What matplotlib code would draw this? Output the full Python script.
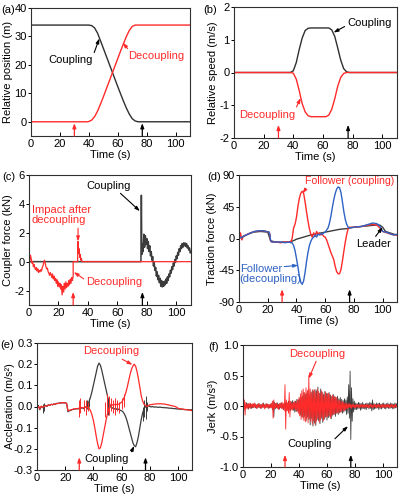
import matplotlib
matplotlib.use("Agg")
import matplotlib.pyplot as plt
import numpy as np

plt.rcParams['font.family'] = ['Liberation Sans', 'DejaVu Sans']
plt.rcParams['font.size'] = 8
plt.rcParams['axes.unicode_minus'] = False

RED = '#ff2a2a'
DARK = '#303030'
GRAY = '#3c3c3c'
BLUE = '#2f63c4'

# ---------------- data ----------------
event_t = [30, 77]  # decoupling / coupling instants (arrows on time axis)

# (a) relative position
pos_coup_t = [0, 40, 42, 44, 46, 48, 50, 52, 54, 56, 58, 60, 62, 64, 66, 68, 70, 72, 74, 110]
pos_coup = [34, 34, 33.8, 33.0, 31.2, 28.6, 25.9, 23.2, 20.5, 17.8, 15.1, 12.4, 9.8, 7.2,
            4.8, 2.7, 1.1, 0.3, 0, 0]
pos_dec_t = [0, 39, 40, 42, 44, 46, 48, 50, 52, 54, 56, 58, 60, 62, 64, 66, 68, 70, 72, 110]
pos_dec = [0, 0, 0.1, 0.6, 1.8, 3.7, 6.1, 8.7, 11.4, 14.1, 16.8, 19.5, 22.2, 24.9, 27.5,
           30.0, 32.1, 33.5, 34, 34]

# (b) relative speed
spd_coup_t = [0, 38, 40, 42, 44, 46, 48, 50, 52, 64, 66, 68, 70, 72, 74, 76, 78, 110]
spd_coup = [0, 0, 0.05, 0.3, 0.7, 1.05, 1.28, 1.35, 1.36, 1.36, 1.3, 1.1, 0.75, 0.38,
            0.12, 0.02, 0, 0]
spd_dec_t = [0, 38, 40, 42, 44, 46, 48, 50, 52, 62, 64, 66, 68, 70, 72, 74, 76, 110]
spd_dec = [0, 0, -0.02, -0.2, -0.55, -0.95, -1.2, -1.32, -1.35, -1.35, -1.3, -1.12, -0.8,
           -0.42, -0.15, -0.03, 0, 0]

# (c) coupler force
cf_dec_t = [0, 0.5, 1, 1.5, 2, 2.5, 3, 3.5, 4, 4.5, 5, 5.5, 6, 6.5, 7, 7.5, 8, 8.5, 9, 9.5,
            10, 10.5, 11, 11.5, 12, 12.5, 13, 13.5, 14, 14.5, 15, 15.5, 16, 16.5, 17, 17.5,
            18, 18.5, 19, 19.5, 20, 20.5, 21, 21.5, 22, 22.5, 23, 23.5, 24, 24.5, 25, 25.5,
            26, 26.5, 27, 27.5, 28, 28.5, 29, 29.5, 30,
            30, 33, 33.2, 33.6, 34, 34.4, 34.8, 35.2, 35.6, 36, 110]
cf_dec = [-0.3, 0.1, 0.45, 0.2, -0.1, 0.0, -0.35, -0.2, -0.45, -0.55, -0.4, -0.65, -0.5,
          -0.75, -0.6, -0.7, -0.55, -0.65, -0.4, -0.3, -0.05, 0.1, -0.1, -0.35, -0.5, -0.45,
          -0.7, -0.8, -0.95, -0.75, -0.9, -1.1, -0.85, -1.2, -1.0, -1.3, -1.15, -1.5, -1.25,
          -1.7, -1.4, -1.75, -1.5, -1.9, -1.6, -2.3, -1.7, -2.1, -1.5, -1.9, -1.4, -1.8, -1.5,
          -1.7, -1.3, -1.6, -1.2, -1.5, -1.1, -1.3, -1.0,
          0, 0, 1.4, 0.6, 0.9, 0.3, 0.5, 0.1, 0.2, 0, 0]
cf_coup_t = [0, 76, 76.3, 76.6, 77, 77.5, 78, 78.5, 79, 79.5, 80, 80.5, 81, 81.5, 82, 82.5,
             83, 83.5, 84, 84.5, 85, 85.5, 86, 86.5, 87, 87.5, 88, 88.5, 89, 89.5, 90, 90.5,
             91, 91.5, 92, 92.5, 93, 93.5, 94, 94.5, 95, 95.5, 96, 96.5, 97, 97.5, 98, 98.5,
             99, 99.5, 100, 100.5, 101, 101.5, 102, 102.5, 103, 103.5, 104, 104.5, 105, 105.5,
             106, 106.5, 107, 107.5, 108, 108.5, 109, 109.5, 110]
cf_coup = [0, 0, 4.6, 0.5, 1.2, 0.7, 1.9, 1.0, 1.8, 1.2, 1.6, 0.9, 1.4, 0.7, 1.1, 0.4, 0.7,
           0.1, 0.35, -0.3, -0.05, -0.6, -0.4, -1.0, -0.7, -1.25, -0.95, -1.45, -1.15, -1.7,
           -1.3, -1.75, -1.4, -1.7, -1.35, -1.6, -1.2, -1.5, -1.05, -1.3, -0.85, -1.05, -0.6,
           -0.8, -0.35, -0.55, -0.1, -0.3, 0.15, -0.05, 0.4, 0.2, 0.65, 0.45, 0.9, 0.7, 1.1,
           0.9, 1.25, 1.0, 1.3, 1.1, 1.3, 1.05, 1.25, 0.95, 1.1, 0.8, 0.95, 0.6, 0.7]

# (d) traction force
tf_fc_t = [0, 1, 2, 3, 5, 8, 11, 14, 17, 19, 21, 21.5, 22, 23, 26, 29, 32, 35, 36, 37, 38,
           39, 40, 41, 42, 43, 44, 45, 46, 47, 48, 49, 50, 51, 52, 53, 54, 55, 56, 57, 58, 59,
           60, 61, 62, 63, 64, 65, 66, 67, 68, 69, 70, 71, 72, 73, 74, 75, 76, 77, 80, 85, 90,
           93, 96, 98, 100, 103, 106, 108, 110]
tf_fc = [0, 8, -2, 3, 5, 8, 10, 11, 11, 10, 9, 5, -4, -5, -5, -6, -5, -5, -5, 0, 15, 20, 30,
         45, 57, 64, 67, 64, 52, 38, 25, 14, 6, 2, 8, 3, 10, 6, 8, 5, 6, 3, 2, -2, -8, -14,
         -20, -25, -30, -40, -47, -50, -50, -44, -32, -18, -5, 6, 14, 16, 16, 17, 19, 20, 19,
         15, 10, 8, 6, 5, 5]
tf_fd_t = [0, 1, 2, 3, 5, 8, 11, 14, 17, 19, 21, 21.5, 22, 23, 26, 29, 32, 35, 36, 37, 38,
           39, 40, 41, 42, 43, 44, 45, 46, 47, 48, 49, 50, 51, 52, 53, 54, 55, 56, 57, 58, 59,
           60, 61, 62, 63, 64, 65, 66, 67, 68, 69, 70, 71, 72, 73, 74, 75, 76, 77, 80, 85, 90,
           93, 96, 98, 100, 102, 104, 106, 108, 110]
tf_fd = [0, 2, 1, 3, 5, 8, 10, 11, 11, 10, 9, 6, -3, -5, -5, -5, -6, -5, -6, -6, -10, -17,
         -28, -40, -53, -62, -65, -60, -48, -33, -20, -10, -4, 0, 2, 5, 2, 6, 5, 7, 6, 8, 9, 12,
         15, 22, 32, 44, 55, 64, 70, 73, 72, 65, 52, 38, 27, 20, 16, 15, 16, 17, 20, 22, 21,
         18, 10, 9, 8, 6, 5, 6]
tf_lead_t = [0, 5, 10, 15, 20, 22, 25, 30, 35, 38, 40, 45, 50, 55, 60, 65, 70, 75, 80, 85,
             90, 95, 98, 100, 102, 105, 108, 110]
tf_lead = [0, 5, 9, 10, 9, -3, -5, -5, -5, -3, -1, 2, 5, 7, 9, 11, 13, 14, 16, 17, 18, 19,
           19, 16, 10, 8, 6, 5]

# (e) acceleration, 1 s step
acc_t = list(range(0, 111))
acc_coup = [-0.01, 0.005, -0.015, 0.0, -0.005, 0.0, 0.005, 0.0, 0.008, 0.005,
            0.01, 0.008, 0.012, 0.01, 0.015, 0.014, 0.017, 0.016, 0.018, 0.017,
            0.018, 0.015, -0.025, -0.02, -0.018, -0.015, -0.013, -0.012, -0.01, -0.012,
            -0.008, -0.01, -0.005, -0.01, -0.005, 0.0, 0.01, 0.025, 0.045, 0.07,
            0.1, 0.13, 0.16, 0.19, 0.205, 0.195, 0.17, 0.14, 0.11, 0.08,
            0.05, 0.02, 0.005, -0.01, -0.005, -0.012, -0.01, -0.015, -0.012, -0.018,
            -0.02, -0.025, -0.035, -0.05, -0.07, -0.095, -0.12, -0.145, -0.17, -0.185,
            -0.19, -0.17, -0.14, -0.1, -0.06, -0.03, -0.01, 0.0, -0.005, 0.005,
            0.0, -0.002, 0.0, -0.003, -0.002, -0.003, -0.004, -0.003, -0.004, -0.005,
            -0.005, -0.006, -0.006, -0.007, -0.008, -0.008, -0.009, -0.01, -0.01, -0.011,
            -0.012, -0.012, -0.013, -0.013, -0.014, -0.015, -0.015, -0.015, -0.016, -0.016,
            -0.015]
acc_dec = [-0.012, 0.0, -0.01, 0.002, -0.004, 0.0, 0.004, 0.002, 0.007, 0.006,
           0.01, 0.009, 0.012, 0.011, 0.014, 0.015, 0.016, 0.017, 0.018, 0.018,
           0.017, 0.014, -0.02, -0.018, -0.016, -0.014, -0.012, -0.011, -0.01, -0.01,
           -0.008, -0.006, -0.005, -0.006, -0.004, -0.003, -0.005, -0.01, -0.02, -0.04,
           -0.065, -0.1, -0.14, -0.175, -0.2, -0.195, -0.17, -0.135, -0.1, -0.065,
           -0.035, -0.01, 0.005, 0.01, 0.005, 0.01, 0.008, 0.012, 0.01, 0.015,
           0.02, 0.03, 0.045, 0.065, 0.09, 0.12, 0.15, 0.175, 0.19, 0.2,
           0.19, 0.165, 0.13, 0.09, 0.05, 0.025, 0.01, 0.005, 0.0, 0.004,
           0.008, 0.009, 0.01, 0.011, 0.012, 0.012, 0.013, 0.013, 0.013, 0.012,
           0.012, 0.011, 0.009, 0.008, 0.006, 0.005, 0.003, 0.002, 0.0, -0.003,
           -0.008, -0.01, -0.011, -0.012, -0.013, -0.014, -0.015, -0.016, -0.017, -0.018,
           -0.02]
# short noise bursts drawn as vertical strokes
acc_dec_spk_t = [29.5, 30.5, 33, 35, 36, 48.5, 50, 51, 52.5, 54, 55.5, 57, 58.5, 60, 62]
acc_dec_spk_lo = [-0.05, -0.03, -0.02, -0.04, -0.02, -0.05, -0.03, -0.04, -0.02, -0.03,
                  -0.04, -0.02, -0.03, -0.01, 0.0]
acc_dec_spk_hi = [0.03, 0.04, 0.03, 0.03, 0.02, 0.02, 0.06, 0.05, 0.04, 0.03, 0.04, 0.03,
                  0.02, 0.04, 0.06]
acc_coup_spk_t = [4, 5, 35.5, 37, 50.5, 75, 76, 77, 77.5, 78]
acc_coup_spk_lo = [-0.03, -0.02, -0.01, 0.0, -0.04, -0.07, -0.05, -0.06, -0.03, -0.02]
acc_coup_spk_hi = [0.01, 0.015, 0.03, 0.04, 0.04, 0.0, 0.03, 0.04, 0.05, 0.02]

# (f) jerk, 0.5 s step, values in 1/100 m/s^3
jerk_t = [i * 0.5 for i in range(221)]
jerk_coup = [0, 3, -4, 2, -3, 5, -2, 4, -5, 3, -3, 4, -4, 2, -3, 3, -2, 4, -3, 2, -4,
             3, -2, 4, -3, 2, -4, 3, -2, 5, -3, 2, -3, 4, -2, 3, -4, 2, -3, 3, -2,
             4, -6, 8, -18, 6, -5, 4, -3, 5, -4, 3, -5, 4, -3, 5, -4, 3, -6, 5, -4,
             6, -5, 4, -7, 8, -6, 5, -8, 7, -5, 9, -7, 6, -10, 8, -9, 11, -8, 10, -12,
             12, -15, 14, -18, 16, -20, 22, -17, 19, -25, 21, -18, 24, -22, 18, -31, 23, -20, 26, -33,
             24, -28, 27, -32, 25, -22, 31, -24, 21, -29, 28, -20, 23, -27, 19, -22, 24, -18, 21, -23,
             20, -19, 22, -17, 18, -21, 16, -15, 19, -14, 15, -17, 13, -12, 16, -14, 12, -11, 14, -10,
             11, -12, 9, -10, 12, -8, 10, -14, 15, -12, 35, -20, 57, -55, 30, -25, 12, -10, 8, -6,
             5, -6, 4, -5, 6, -4, 5, -7, 4, -5, 6, -4, 3, -5, 4, -6, 5, -3, 4, -5,
             6, -4, 5, -8, 10, -6, 4, -5, 3, -4, 5, -3, 4, -6, 5, -4, 3, -5, 4, -3,
             5, -4, 3, -5, 4, -3, 5, -4, 3, -4, 5, -3, 4, -5, 3, -4, 5, -3, 4, -2]
jerk_dec = [0, -8, 10, -15, 6, -4, 3, -5, 4, -3, 5, -4, 3, -2, 4, -3, 5, -2, 3, -4, 2,
            -3, 4, -2, 3, -4, 2, -3, 4, -2, 3, -5, 2, -3, 4, -2, 3, -4, 2, -3, 4,
            -3, 8, -20, 10, -5, 4, -3, 5, -4, 3, -6, 4, -3, 5, -4, 6, -5, 4, -8, 35,
            -38, 10, -8, 6, -12, 22, -18, 8, -6, 5, -7, 6, -5, 8, -6, 7, -9, 10, -12, 14,
            -16, 20, -22, 25, -18, 28, -24, 22, -26, 30, -22, 26, -28, 50, -20, 28, -25, 22, -30, 27,
            -24, 26, -30, 22, -25, 28, -20, 24, -27, 21, -23, 25, -19, 22, -24, 18, -20, 23, -17, 20,
            -18, 21, -16, 19, -20, 15, -17, 18, -14, 16, -13, 15, -12, 14, -11, 10, -12, 9, -10, 8,
            -9, 7, -8, 6, -7, 5, -6, 4, -5, 4, -3, 4, -3, 3, -4, 3, -2, 3, -3, 2,
            -3, 2, -2, 3, -2, 2, -3, 2, -2, 3, -2, 2, -3, 2, -2, 3, -2, 2, -3, 2,
            -2, 3, -2, 2, -3, 2, -2, 3, -2, 2, -3, 2, -2, 3, -2, 2, -3, 2, -2, 3,
            -2, 2, -3, 2, -2, 3, -2, 2, -3, 2, -2, 3, -2, 2, -3, 2, -2, 3, -2, 0]

ARROW = '-|>,head_width=0.12,head_length=0.35'


# ---------------- helpers ----------------
def style_axes(ax, ylim, yticks, ylabel, fmt=None, ylabel_size=8):
    ax.set_xlim(0, 110)
    ax.set_xticks([0, 20, 40, 60, 80, 100])
    ax.set_ylim(*ylim)
    ax.set_yticks(yticks)
    if fmt:
        ax.set_yticklabels([fmt.format(v) for v in yticks])
    ax.set_xlabel('Time (s)', labelpad=1)
    ax.set_ylabel(ylabel, labelpad=1, fontsize=ylabel_size)
    ax.tick_params(axis='x', direction='in', length=3, width=0.7, pad=2, labelsize=8)
    ax.tick_params(axis='y', direction='out', length=2, width=0.7, pad=1, labelsize=8)
    for s in ax.spines.values():
        s.set_linewidth(0.8)
        s.set_color(DARK)


def mark_events(ax):
    for t, c in zip(event_t, [RED, 'black']):
        ax.annotate('', xy=(t, 0.1), xytext=(t, 0.0),
                    xycoords=('data', 'axes fraction'),
                    arrowprops=dict(arrowstyle='-|>,head_width=0.13,head_length=0.35',
                                    color=c, lw=0.9, shrinkA=0, shrinkB=0))


def note(ax, text, xy, xytext, color, ha, relpos, size=8, spacing=1.0):
    ax.annotate(text, xy=xy, xytext=xytext, color=color, ha=ha, va='center',
                fontsize=size, linespacing=spacing,
                arrowprops=dict(arrowstyle=ARROW, color=color, lw=0.8,
                                shrinkA=0, shrinkB=0, relpos=relpos))


fig = plt.figure(figsize=(4, 5), dpi=100)

# (a)
ax = fig.add_axes([0.0775, 0.728, 0.3975, 0.256])
ax.plot(pos_coup_t, pos_coup, color=DARK, lw=1.0)
ax.plot(pos_dec_t, pos_dec, color=RED, lw=1.0)
style_axes(ax, (-5, 40), [0, 10, 20, 30, 40], 'Relative position (m)')
mark_events(ax)
note(ax, 'Coupling', (47.3, 29.3), (42.5, 21.6), 'black', 'right', (1.0, 0.8))
note(ax, 'Decoupling', (63.5, 27.8), (67, 23), RED, 'left', (0.05, 0.9))

# (b)
ax = fig.add_axes([0.585, 0.724, 0.4075, 0.262])
ax.plot(spd_coup_t, spd_coup, color=DARK, lw=1.0)
ax.plot(spd_dec_t, spd_dec, color=RED, lw=1.0)
style_axes(ax, (-2, 2), [-2, -1, 0, 1, 2], 'Relative speed (m/s)')
mark_events(ax)
note(ax, 'Coupling', (67.2, 1.22), (76.5, 1.51), 'black', 'left', (0, 0.3))
note(ax, 'Decoupling', (45, -0.78), (41, -1.29), RED, 'right', (1.0, 0.9))

# (c)
ax = fig.add_axes([0.0725, 0.39, 0.405, 0.26])
ax.plot(cf_coup_t, cf_coup, color=GRAY, lw=1.1)
ax.plot(cf_dec_t, cf_dec, color=RED, lw=0.9)
style_axes(ax, (-3, 6), [-2, 0, 2, 4, 6], 'Coupler force (kN)')
mark_events(ax)
note(ax, 'Coupling', (75.3, 3.5), (54, 5.27), 'black', 'center', (0.7, 0))
note(ax, 'Impact after\ndecoupling', (33.3, 1.4), (2, 3.2), RED, 'left', (0.78, 0))
note(ax, 'Decoupling', (30.4, -0.72), (39, -1.39), RED, 'left', (0, 0.6))

# (d)
ax = fig.add_axes([0.5975, 0.396, 0.395, 0.254])
ax.plot(tf_lead_t, tf_lead, color=GRAY, lw=1.0)
ax.plot(tf_fc_t, tf_fc, color=RED, lw=1.0)
ax.plot(tf_fd_t, tf_fd, color=BLUE, lw=1.0)
style_axes(ax, (-90, 90), [-90, -45, 0, 45, 90], 'Traction force (kN)')
mark_events(ax)
note(ax, 'Follower (coupling)', (44.3, 64), (46, 81.5), RED, 'left', (0.03, 0), size=7.6)
note(ax, 'Leader', (100, 16), (81.5, -8), 'black', 'left', (0.5, 1))
note(ax, 'Follower\n(decoupling)', (41.2, -38), (0.5, -50), BLUE, 'left', (0.72, 0.85),
     spacing=1.05)

# (e)
ax = fig.add_axes([0.0925, 0.06, 0.3875, 0.254])
ax.plot(acc_t, acc_coup, color=GRAY, lw=0.9)
ax.vlines(acc_coup_spk_t, acc_coup_spk_lo, acc_coup_spk_hi, color=GRAY, lw=0.7)
ax.plot(acc_t, acc_dec, color=RED, lw=0.9)
ax.vlines(acc_dec_spk_t, acc_dec_spk_lo, acc_dec_spk_hi, color=RED, lw=0.7)
style_axes(ax, (-0.3, 0.3), [-0.3, -0.2, -0.1, 0.0, 0.1, 0.2, 0.3],
           'Accleration (m/s²)', fmt='{:.1f}', ylabel_size=7.8)
ax.yaxis.set_label_coords(-0.145, 0.5)
mark_events(ax)
note(ax, 'Decoupling', (67.8, 0.197), (33, 0.26), RED, 'left', (0.6, 0))
note(ax, 'Coupling', (69, -0.186), (33.5, -0.25), 'black', 'left', (1, 0.7))

# (f)
ax = fig.add_axes([0.6075, 0.066, 0.385, 0.244])
ax.plot(jerk_t, np.array(jerk_coup) / 100, color=GRAY, lw=0.6)
ax.plot(jerk_t, np.array(jerk_dec) / 100, color=RED, lw=0.6)
style_axes(ax, (-1.0, 1.0), [-1.0, -0.5, 0.0, 0.5, 1.0], 'Jerk (m/s³)', fmt='{:.1f}')
mark_events(ax)
note(ax, 'Decoupling', (47, 0.45), (33, 0.86), RED, 'left', (0.5, 0))
note(ax, 'Coupling', (75, -0.33), (32, -0.63), 'black', 'left', (1, 0.8))

# panel letters
for lab, x, y in [('(a)', 0.003, 0.980), ('(b)', 0.508, 0.980), ('(c)', 0.005, 0.646),
                  ('(d)', 0.5175, 0.646), ('(e)', 0.0, 0.310), ('(f)', 0.52, 0.306)]:
    fig.text(x, y, lab, fontsize=8, ha='left', va='center')

fig.savefig('out.png', dpi=100)
